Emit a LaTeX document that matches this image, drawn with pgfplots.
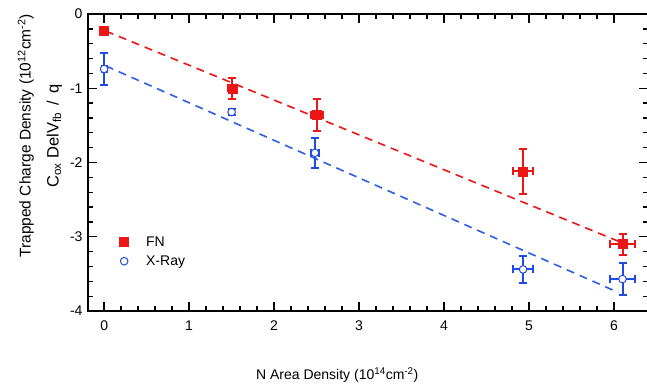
\documentclass[border=0pt]{standalone}
\usepackage{pgfplots}
\pgfplotsset{compat=1.18}
\usepackage{fontspec}
\setmainfont{Liberation Sans}
\definecolor{fnred}{RGB}{236,22,22}
\definecolor{xblue}{RGB}{30,75,225}
\definecolor{lblue}{RGB}{45,95,230}
\begin{document}
\begin{tikzpicture}
\begin{axis}[
  scale only axis,
  width=560pt, height=297pt,
  xmin=-0.19, xmax=6.4,
  ymin=-4, ymax=0,
  xtick={0,1,2,3,4,5,6},
  ytick={-4,-3,-2,-1,0},
  minor x tick num=4,
  minor y tick num=4,
  tick align=inside,
  major tick length=9pt,
  minor tick length=5pt,
  every tick/.style={line width=1.3pt, black},
  axis line style={line width=1.6pt},
  /pgf/number format/assume math mode=true,
  ticklabel style={font=\fontsize{14}{17}\selectfont},
  xticklabel style={yshift=-6pt},
  yticklabel style={xshift=-2pt},
  xlabel={N Area Density (10\textsuperscript{14}cm\textsuperscript{-2})},
  xlabel style={at={(axis description cs:0.445,-0.215)}, anchor=center, font=\fontsize{14}{17}\selectfont},
  ylabel={Trapped Charge Density (10\textsuperscript{12}cm\textsuperscript{-2})\\[10pt] {\fontsize{16.5}{19}\selectfont C\textsubscript{ox} DelV\textsubscript{fb}\, /\, q}},
  ylabel style={at={(axis description cs:-0.086,0.59)}, anchor=center, align=center, font=\fontsize{15.5}{18}\selectfont},
  legend style={draw=none, fill=none, at={(axis description cs:0.041,0.265)}, anchor=north west,
    font=\fontsize{14}{17}\selectfont, row sep=4pt},
  legend cell align=left,
  legend image code/.code={\path[draw=none, fill=none] (0pt,0pt) -- (30pt,0pt); \draw[only marks] plot coordinates {(10pt,0pt)};},
]
% fit lines
\addplot[fnred, line width=1.6pt, dash pattern=on 8pt off 6pt, forget plot] coordinates {(0.02,-0.23) (6.05,-3.06)};
\addplot[lblue, line width=1.6pt, dash pattern=on 8pt off 6pt, forget plot] coordinates {(0.02,-0.70) (6.05,-3.75)};
% FN
\addplot[fnred, only marks, mark=square*, mark size=4.5pt,
  error bars/.cd, x dir=both, x explicit, y dir=both, y explicit,
  error bar style={fnred, line width=2pt},
  error mark options={fnred, line width=2pt, mark size=4pt, rotate=90}]
  table[x=x, y=y, x error=ex, y error=ey] {
x y ex ey
0.00 -0.22 0.00 0.00
1.51 -1.00 0.05 0.14
2.50 -1.36 0.07 0.22
4.93 -2.12 0.12 0.30
6.10 -3.10 0.15 0.14
};
\addlegendentry{FN}
% X-Ray
\addplot[xblue, only marks, mark=*, mark size=3.8pt, mark options={fill=white, line width=1pt},
  error bars/.cd, x dir=both, x explicit, y dir=both, y explicit,
  error bar style={xblue, line width=2pt},
  error mark options={xblue, line width=2pt, mark size=4pt, rotate=90}]
  table[x=x, y=y, x error=ex, y error=ey] {
x y ex ey
0.00 -0.74 0.03 0.21
1.50 -1.32 0.03 0.04
2.48 -1.87 0.05 0.20
4.93 -3.44 0.12 0.18
6.10 -3.57 0.15 0.21
};
\addlegendentry{X-Ray}
\end{axis}
\pgfresetboundingbox
\path (-88pt,-78pt) rectangle (559pt,311pt);
\end{tikzpicture}
\end{document}
